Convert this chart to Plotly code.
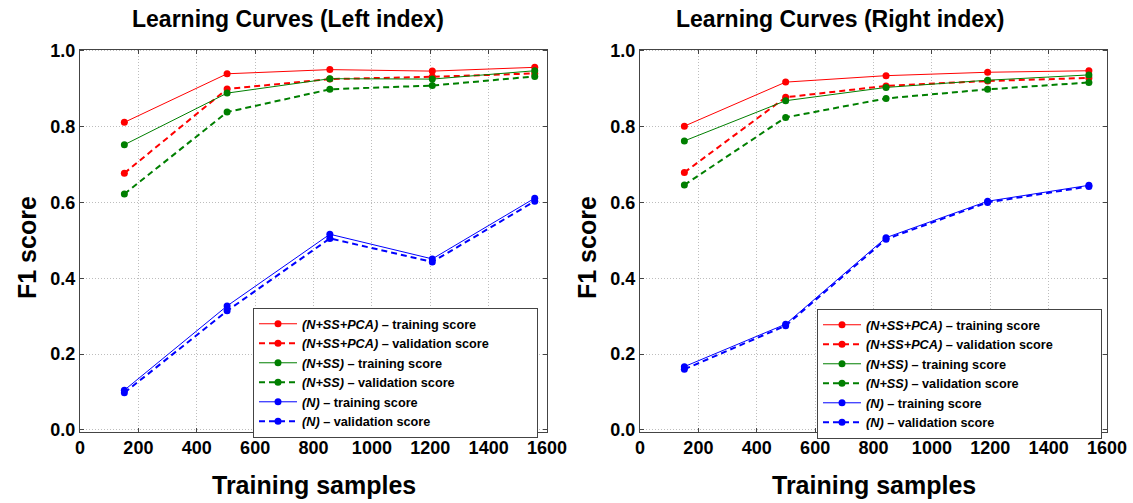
import plotly.graph_objects as go

# ---------------- data ----------------
x_left = [152, 504, 856, 1207, 1558]
x_right = [152, 499, 843, 1191, 1538]

left_pca_train = [0.811, 0.939, 0.950, 0.946, 0.956]
left_pca_valid = [0.677, 0.899, 0.925, 0.931, 0.940]
left_ss_train = [0.752, 0.888, 0.926, 0.925, 0.947]
left_ss_valid = [0.622, 0.838, 0.898, 0.908, 0.932]
left_n_train = [0.105, 0.327, 0.516, 0.451, 0.611]
left_n_valid = [0.098, 0.314, 0.505, 0.443, 0.603]

right_pca_train = [0.801, 0.917, 0.934, 0.943, 0.947]
right_pca_valid = [0.679, 0.877, 0.907, 0.920, 0.928]
right_ss_train = [0.762, 0.868, 0.903, 0.922, 0.936]
right_ss_valid = [0.646, 0.824, 0.874, 0.898, 0.916]
right_n_train = [0.167, 0.279, 0.507, 0.603, 0.645]
right_n_valid = [0.160, 0.275, 0.503, 0.600, 0.642]

series_names = [
    "<b><i>(N+SS+PCA)</i> – training score</b>",
    "<b><i>(N+SS+PCA)</i> – validation score</b>",
    "<b><i>(N+SS)</i> – training score</b>",
    "<b><i>(N+SS)</i> – validation score</b>",
    "<b><i>(N)</i> – training score</b>",
    "<b><i>(N)</i> – validation score</b>",
]
series_colors = ["#ff0000", "#ff0000", "#007f00", "#007f00", "#0000ff", "#0000ff"]
series_dashed = [False, True, False, True, False, True]

titles = ["Learning Curves (Left index)", "Learning Curves (Right index)"]
x_title = "Training samples"
y_title = "F1 score"
x_ticks = [0, 200, 400, 600, 800, 1000, 1200, 1400, 1600]
y_ticks = [0.0, 0.2, 0.4, 0.6, 0.8, 1.0]

FONT = "Liberation Sans, Arial, sans-serif"
W, H = 1133, 503
PAD = "\u00a0" * 12  # right padding inside legend box


def px(x):
    return x / W


def py(y):
    return (H - y) / H


fig = go.Figure()

panels = [
    (x_left, [left_pca_train, left_pca_valid, left_ss_train, left_ss_valid, left_n_train, left_n_valid], "x", "y", "legend"),
    (x_right, [right_pca_train, right_pca_valid, right_ss_train, right_ss_valid, right_n_train, right_n_valid], "x2", "y2", "legend2"),
]

for xs, ys_list, xa, ya, lg in panels:
    for name, ys, col, dashed in zip(series_names, ys_list, series_colors, series_dashed):
        fig.add_trace(go.Scatter(
            x=xs, y=ys, mode="lines+markers", name=name + PAD,
            xaxis=xa, yaxis=ya, legend=lg,
            line=dict(color=col, width=2 if dashed else 1,
                      dash="6px,4px" if dashed else "solid"),
            marker=dict(color=col, size=7, line=dict(width=0)),
        ))

axis_common = dict(
    showline=True, linecolor="#444444", linewidth=1, mirror="ticks",
    ticks="inside", ticklen=4, tickcolor="#444444",
    showgrid=True, gridcolor="#bdbdbd", gridwidth=1, griddash="1px,2px",
    zeroline=False, automargin=False,
    tickfont=dict(family=FONT, size=18, color="black", weight="bold"),
)

xdoms = [[px(80), px(547)], [px(640), px(1107)]]
ydom = [py(431.5), py(49.5)]

layout_axes = {}
for i, xd in enumerate(xdoms):
    sfx = "" if i == 0 else "2"
    layout_axes["xaxis" + sfx] = dict(
        domain=xd, range=[0, 1600], tickvals=x_ticks,
        ticktext=[str(v) for v in x_ticks], anchor="y" + sfx,
        **axis_common,
    )
    layout_axes["yaxis" + sfx] = dict(
        domain=ydom, range=[-0.004, 1.003], tickvals=y_ticks,
        ticktext=[f"{v:.1f}" for v in y_ticks], anchor="x" + sfx,
        **axis_common,
    )

legend_common = dict(
    bgcolor="white", bordercolor="#444444", borderwidth=1,
    font=dict(family=FONT, size=12.7, color="black"),
    xanchor="left", yanchor="top", tracegroupgap=0, itemwidth=38,
)


def ann(text, x, y, size, angle=0):
    return dict(text="<b>" + text + "</b>", x=px(x), y=py(y),
                xref="paper", yref="paper", xanchor="center", yanchor="middle",
                showarrow=False, textangle=angle,
                font=dict(family=FONT, size=size, color="black"))


fig.update_layout(
    width=W, height=H,
    margin=dict(l=0, r=0, t=0, b=0, autoexpand=False),
    paper_bgcolor="white", plot_bgcolor="white",
    font=dict(family=FONT, color="black"),
    legend=dict(x=px(253), y=py(308), **legend_common),
    legend2=dict(x=px(817), y=py(309), **legend_common),
    annotations=[
        ann(titles[0], 288, 19, 23),
        ann(titles[1], 840, 19, 23),
        ann(x_title, 313.5, 485, 25),
        ann(x_title, 873.5, 485, 25),
        ann(y_title, 27, 248, 25, -90),
        ann(y_title, 587, 248, 25, -90),
    ],
    showlegend=True,
    **layout_axes,
)

fig.write_html("out.html", config={"displayModeBar": False},
               post_script="document.body.style.margin='0';document.body.style.padding='0';")
